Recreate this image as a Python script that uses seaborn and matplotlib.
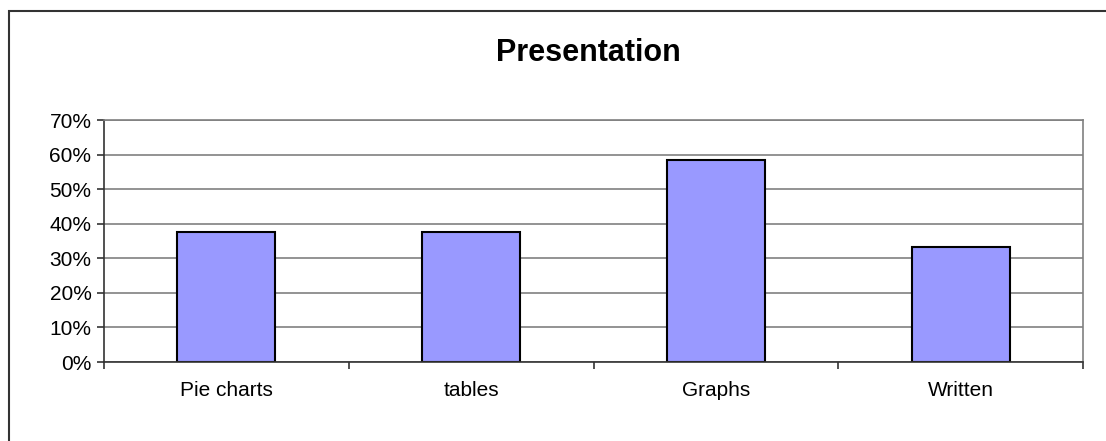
import numpy as np
import pandas as pd
import matplotlib
matplotlib.use("Agg")
import matplotlib.pyplot as plt
import seaborn as sns
from matplotlib.patches import Rectangle
from matplotlib.ticker import PercentFormatter, FixedLocator

categories = ["Pie charts", "tables", "Graphs", "Written"]
shares = [0.375, 0.375, 0.583, 0.333]

df = pd.DataFrame({"Method": categories, "Share": shares})

sns.set_style("white", {"xtick.bottom": True, "ytick.left": True,
                        "text.color": "black", "xtick.color": "#333333",
                        "ytick.color": "#333333"})
plt.rcParams["font.family"] = ["Liberation Sans", "DejaVu Sans"]

fig = plt.figure(figsize=(11.06, 4.41), dpi=100)
ax = fig.add_axes([104 / 1106, 1 - 362 / 441, (1083 - 104) / 1106, (362 - 120) / 441])

sns.barplot(data=df, x="Method", y="Share", color="#9999FF", width=0.4,
            edgecolor="black", linewidth=1.5, saturation=1, ax=ax)

ax.set_ylim(0, 0.7)
ax.set_xlim(-0.5, 3.5)
ax.set_yticks(np.arange(0, 0.71, 0.1))
ax.yaxis.set_major_formatter(PercentFormatter(1.0, decimals=0))
ax.yaxis.grid(True, color="#808080", linewidth=1.2)
ax.set_axisbelow(True)

# category boundary ticks, labels at centers
ax.xaxis.set_major_locator(FixedLocator([-0.5, 0.5, 1.5, 2.5, 3.5]))
ax.xaxis.set_minor_locator(FixedLocator([0, 1, 2, 3]))
ax.set_xticklabels([""] * 5)
ax.set_xticklabels(categories, minor=True)
ax.tick_params(axis="x", which="major", bottom=True, length=5, width=1.2,
               color="#333333", direction="out")
ax.tick_params(axis="x", which="minor", bottom=True, length=0, pad=14,
               labelsize=15, labelcolor="black")
ax.tick_params(axis="y", left=True, length=5, width=1.2, color="#333333",
               direction="out", labelsize=15, labelcolor="black", pad=4)

ax.set_xlabel("")
ax.set_ylabel("")

for side in ["top", "right"]:
    ax.spines[side].set_color("#808080")
    ax.spines[side].set_linewidth(1.2)
for side in ["left", "bottom"]:
    ax.spines[side].set_color("#333333")
    ax.spines[side].set_linewidth(1.2)

fig.text(0.532, 1 - 53 / 441, "Presentation", ha="center", va="center",
         fontsize=22, fontweight="bold", color="black")

fig.patches.append(Rectangle((8.5 / 1106, -0.1), 1.2, 1 - 10.5 / 441 + 0.1,
                             transform=fig.transFigure, fill=False,
                             edgecolor="#333333", linewidth=1.5))

fig.savefig("out.png", dpi=100)
